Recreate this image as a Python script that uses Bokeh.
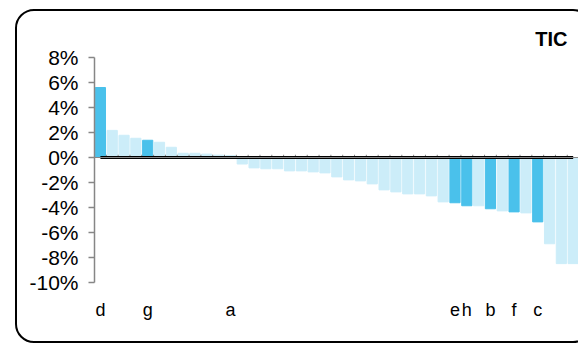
from bokeh.plotting import figure
from bokeh.models import (Range1d, FixedTicker, ColumnDataSource,
                          PrintfTickFormatter, Span, InlineStyleSheet)
from bokeh.embed import file_html
from bokeh.resources import INLINE

# ---- data (values in %) ----
values = [5.60, 2.17, 1.78, 1.54, 1.38, 1.22, 0.82, 0.34, 0.34, 0.27, 0.19, 0.10,
          -0.52, -0.83, -0.90, -0.90, -1.07, -1.07, -1.15, -1.23, -1.55, -1.79, -1.87, -2.11,
          -2.59, -2.75, -2.91, -2.91, -3.07, -3.55, -3.62, -3.86, -3.86, -4.10, -4.27, -4.35,
          -4.43, -5.15, -6.90, -8.49, -8.49]
highlight_names = ["d", "g", "a", "e", "h", "b", "f", "c"]
highlight_pos = [1, 5, 12, 31, 32, 34, 36, 38]
y_ticks = [-10, -8, -6, -4, -2, 0, 2, 4, 6, 8]
title_text = "TIC"

DARK = "#4AC1EB"
LIGHT = "#CCEDF9"
FONT = "Liberation Sans"
W, H = 578, 344
LEFT, TOP, BOTTOM = 94, 57, 62

xs = list(range(1, len(values) + 1))
colors = [DARK if x in highlight_pos else LIGHT for x in xs]
src = ColumnDataSource(dict(x=xs, top=values, color=colors))

p = figure(width=W, height=H, output_backend="svg", toolbar_location=None,
           x_range=Range1d(0.5, 41.45), y_range=Range1d(y_ticks[0], y_ticks[-1]),
           min_border_left=LEFT, min_border_right=0, min_border_top=TOP,
           min_border_bottom=BOTTOM, title=title_text)
p.outline_line_color = None
p.grid.visible = False
p.background_fill_color = "white"
p.border_fill_color = "white"

# title, top right
p.title.align = "right"
p.title.text_font = FONT
p.title.text_font_style = "bold"
p.title.text_font_size = "20px"
p.title.text_color = "black"
p.title.offset = 11
if "standoff" in p.title.properties():
    p.title.standoff = 16

p.vbar(x="x", top="top", bottom=0, width=0.86, color="color", source=src)

# x axis line at zero (grey) + ticks at category boundaries
p.add_layout(Span(location=0, dimension="width", line_color="#868686", line_width=1))
bounds = [x + 0.5 for x in xs[:-1]]
p.segment(x0=bounds, x1=bounds, y0=[0] * len(bounds), y1=[0.22] * len(bounds),
          line_color="#868686", line_width=1)
# thick black zero line from first to last category centre
p.line(x=[xs[0], xs[-1]], y=[0, 0], line_color="black", line_width=3)

# y axis
ya = p.yaxis[0]
ya.ticker = FixedTicker(ticks=y_ticks)
ya.formatter = PrintfTickFormatter(format="%d%%")
ya.axis_line_color = "#868686"
ya.axis_line_width = 1.5
ya.major_tick_line_color = "#868686"
ya.major_tick_line_width = 1.5
ya.major_tick_out = 6
ya.major_tick_in = 0
ya.minor_tick_line_color = None
ya.major_label_standoff = 10
ya.major_label_text_font = FONT
ya.major_label_text_font_size = "21px"
ya.major_label_text_color = "black"

# x axis (labels only)
xa = p.xaxis[0]
xa.ticker = FixedTicker(ticks=highlight_pos)
xa.major_label_overrides = {pos: name for pos, name in zip(highlight_pos, highlight_names)}
xa.axis_line_color = None
xa.major_tick_line_color = None
xa.minor_tick_line_color = None
xa.major_tick_out = 0
xa.major_tick_in = 0
xa.major_label_standoff = 17
xa.major_label_text_font = FONT
xa.major_label_text_font_size = "18px"
xa.major_label_text_color = "black"

# rounded chart border, running off the right-hand edge as in the reference
p.stylesheets = [InlineStyleSheet(css="""
:host { position: relative; overflow: hidden; }
:host::after {
  content: ""; position: absolute; left: 14.5px; top: 8.8px; right: -14px; bottom: 1px;
  width: auto; height: auto; max-width: none; max-height: none; box-sizing: border-box;
  border: 2.5px solid #000; border-radius: 19px; pointer-events: none; z-index: 10;
}
""")]

open("out.html", "w").write(file_html(p, INLINE))
